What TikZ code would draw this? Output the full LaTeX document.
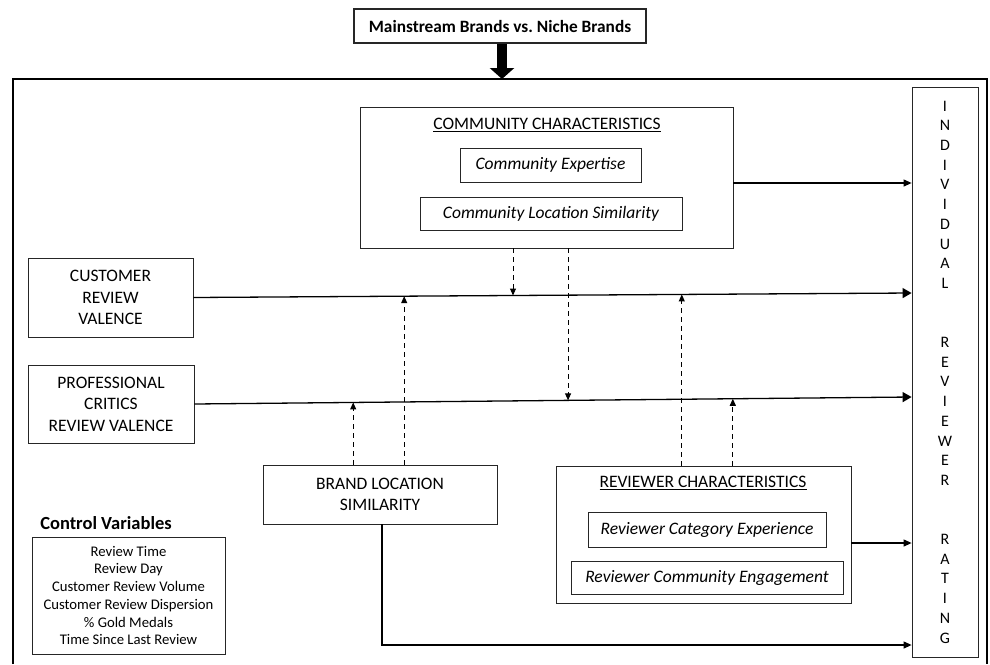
\documentclass[tikz,border=0pt]{standalone}
\usepackage{fontspec}
\setmainfont{Carlito}
\usetikzlibrary{arrows.meta}

\begin{document}
\begin{tikzpicture}[x=1pt,y=-1pt,
    font=\fontsize{17.5}{21.5}\selectfont,
    box/.style={draw=black!85,line width=0.8pt,align=center,inner sep=0pt},
    inbox/.style={box,font=\fontsize{17.5}{21}\selectfont\itshape},
    arr/.style={line width=1.1pt,-{Triangle[length=8pt,width=7pt]}},
    bigarr/.style={line width=1.3pt,-{Triangle[length=9pt,width=10pt]}},
    dasharr/.style={line width=1pt,dash pattern=on 5pt off 4pt,-{Triangle[length=7pt,width=6pt]}}]

    \useasboundingbox (0,0) rectangle (990,664);

    % Moderator and frame
    \node[box,line width=1.4pt,minimum width=292pt,minimum height=34pt,font=\fontsize{17.3}{20}\selectfont\bfseries] (top) at (500,26) {Mainstream Brands vs.\ Niche Brands};
    \coordinate (frametop) at (502,79);
    \draw[line width=2pt] (13,664) -- (13,79) -- (987,79) -- (987,664);
    \draw[line width=10pt,-{Triangle[length=11pt,width=24pt]}] (top.south -| frametop) -- (frametop);

    % Community characteristics
    \node[box,minimum width=373pt,minimum height=141pt] (comm) at (546.5,177.5) {};
    \node (commtitle) at (547,125) {\underline{COMMUNITY CHARACTERISTICS}};
    \node[inbox,minimum width=181pt,minimum height=34pt] (commexp) at (550.5,165) {Community Expertise};
    \node[inbox,minimum width=262pt,minimum height=33pt] (commloc) at (551,213.5) {Community Location Similarity};

    % Dependent variable
    \node[box,minimum width=66pt,minimum height=570pt,font=\fontsize{16}{19.7}\selectfont] (out) at (945,372) {I\\N\\D\\I\\V\\I\\D\\U\\A\\L\\[39.4pt]R\\E\\V\\I\\E\\W\\E\\R\\[39.4pt]R\\A\\T\\I\\N\\G};

    % Predictors
    \node[box,minimum width=165pt,minimum height=79pt] (cust) at (110.5,297.5) {CUSTOMER\\REVIEW\\VALENCE};
    \node[box,minimum width=166pt,minimum height=78pt] (prof) at (111,404) {PROFESSIONAL\\CRITICS\\REVIEW VALENCE};

    % Brand location similarity
    \node[box,minimum width=234pt,minimum height=59pt] (brand) at (380,494.5) {BRAND LOCATION\\SIMILARITY};

    % Reviewer characteristics
    \node[box,minimum width=295pt,minimum height=137pt] (rev) at (703.5,534.5) {};
    \node (revtitle) at (703,483) {\underline{REVIEWER CHARACTERISTICS}};
    \node[inbox,minimum width=238pt,minimum height=35pt] (revcat) at (707,529.5) {Reviewer Category Experience};
    \node[inbox,minimum width=272pt,minimum height=33pt] (reveng) at (707,577.5) {Reviewer Community Engagement};

    % Control variables
    \node[font=\fontsize{18.5}{20}\selectfont\bfseries] (ctrltitle) at (106,523) {Control Variables};
    \node[box,minimum width=193pt,minimum height=117pt,font=\fontsize{14.7}{17.7}\selectfont] (ctrl) at (128.5,595.5) {Review Time\\Review Day\\Customer Review Volume\\Customer Review Dispersion\\\% Gold Medals\\Time Since Last Review};

    % Main effects
    \draw[arr] (comm.east |- 0,183) -- (out.west |- 0,183);
    \draw[bigarr] (cust.east) -- (out.west |- 0,293)
        coordinate[pos=0.2935] (c1) coordinate[pos=0.445] (c2) coordinate[pos=0.68] (c3);
    \draw[bigarr] (prof.east) -- (out.west |- 0,397)
        coordinate[pos=0.2214] (p1) coordinate[pos=0.521] (p2) coordinate[pos=0.7507] (p3);
    \draw[arr] (rev.east |- 0,543) -- (out.west |- 0,543);
    \draw[arr] (brand.south -| 382,0) |- (out.west |- 0,645);

    % Moderating effects
    \draw[dasharr] (comm.south -| c2) -- (c2);
    \draw[dasharr] (comm.south -| p2) -- (p2);
    \draw[dasharr] (brand.north -| p1) -- (p1);
    \draw[dasharr] (brand.north -| c1) -- (c1);
    \draw[dasharr] (rev.north -| c3) -- (c3);
    \draw[dasharr] (rev.north -| p3) -- (p3);
\end{tikzpicture}
\end{document}
